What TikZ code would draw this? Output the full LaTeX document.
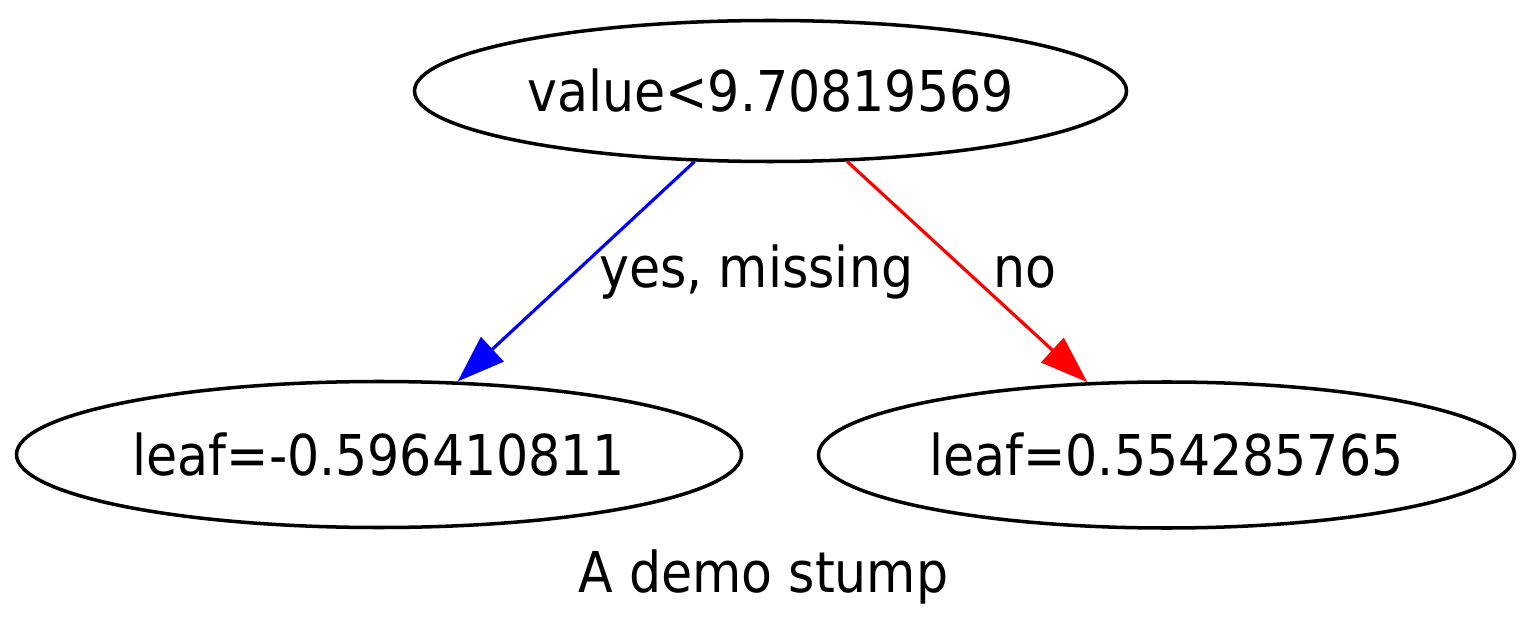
\documentclass[tikz,border=0pt]{standalone}
\usepackage{fontspec}
\setmainfont{DejaVu Sans Condensed}
\usepackage{tikz}
\usetikzlibrary{positioning,shapes,arrows.meta}
\tikzstyle{split} = [ellipse, draw=black, line width=2pt, minimum width=14.24cm, minimum height=2.82cm, inner sep=0pt, font=\fontsize{32}{38}\selectfont]
\tikzstyle{leaf} = [ellipse, draw=black, line width=2pt, minimum height=2.92cm, inner sep=0pt, font=\fontsize{32}{38}\selectfont]
\tikzstyle{edgelabel} = [font=\fontsize{32}{38}\selectfont, inner sep=0pt, anchor=base west]
\tikzstyle{arrow} = [line width=1.8pt, -{Triangle[length=0.95cm, width=0.66cm]}]

\begin{document}
\begin{tikzpicture}
          \useasboundingbox (0,0) rectangle (30.66,12.84);
          \node (root) [split] at (15.41,11.02) {value<9.70819569};
          \node (leafyes) [leaf, minimum width=14.5cm] at (7.58,3.75) {leaf=-0.596410811};
          \node (leafno) [leaf, minimum width=13.92cm] at (23.33,3.74) {leaf=0.554285765};
          \node (caption) [edgelabel, anchor=base] at (15.27,1.0) {A demo stump};
          \draw [arrow, blue] (root) -- (leafyes);
          \draw [arrow, red] (root) -- (leafno);
          \node (labelyes) [edgelabel] at (11.98,7.08) {yes, missing};
          \node (labelno) [edgelabel] at (19.86,7.08) {no};
        \end{tikzpicture}
\end{document}
